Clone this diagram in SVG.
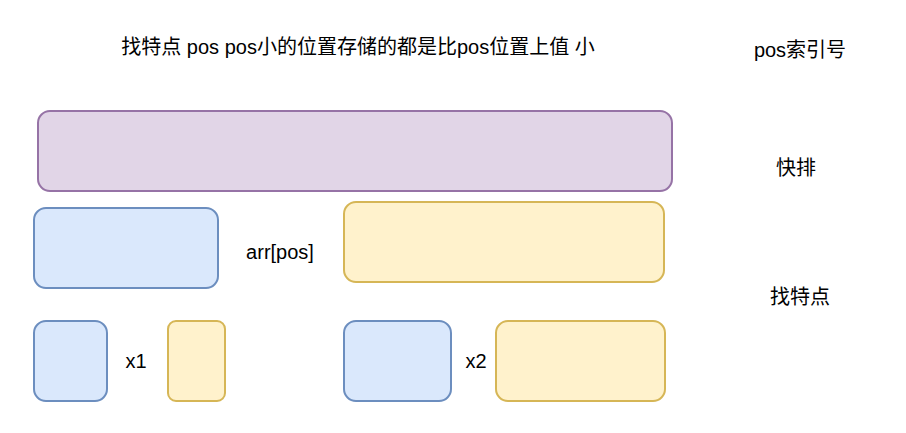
<svg xmlns="http://www.w3.org/2000/svg" width="906" height="433" viewBox="0 0 906 433">
<style>
text{font-family:"Liberation Sans","Noto Sans CJK SC",sans-serif;font-size:20px;fill:#000;text-anchor:middle;dominant-baseline:central}
.p{fill:#e1d5e7;stroke:#9673a6;stroke-width:2}
.b{fill:#dae8fc;stroke:#6c8ebf;stroke-width:2}
.y{fill:#fff2cc;stroke:#d6b656;stroke-width:2}
</style>
<rect width="906" height="433" fill="#fff"/>
<g id="title"><text x="358" y="47">找特点 pos pos小的位置存储的都是比pos位置上值 小</text></g>
<g id="label-pos"><text x="800" y="50">pos索引号</text></g>
<g id="label-qs"><text x="796" y="168">快排</text></g>
<g id="label-find"><text x="800" y="297">找特点</text></g>
<g id="n-purple"><rect class="p" x="38" y="111" width="634" height="80" rx="12"/></g>
<g id="n-b1"><rect class="b" x="34" y="208" width="184" height="80" rx="12"/></g>
<g id="n-arr"><text x="280" y="252">arr[pos]</text></g>
<g id="n-y1"><rect class="y" x="344" y="202" width="320" height="80" rx="12"/></g>
<g id="n-b2"><rect class="b" x="34" y="321" width="73" height="80" rx="12"/></g>
<g id="n-x1"><text x="136" y="361">x1</text></g>
<g id="n-y2"><rect class="y" x="168" y="321" width="57" height="80" rx="8"/></g>
<g id="n-b3"><rect class="b" x="344" y="321" width="107" height="80" rx="12"/></g>
<g id="n-x2"><text x="476" y="361">x2</text></g>
<g id="n-y3"><rect class="y" x="496" y="321" width="169" height="80" rx="12"/></g>
<g id="connectors"></g>
</svg>
